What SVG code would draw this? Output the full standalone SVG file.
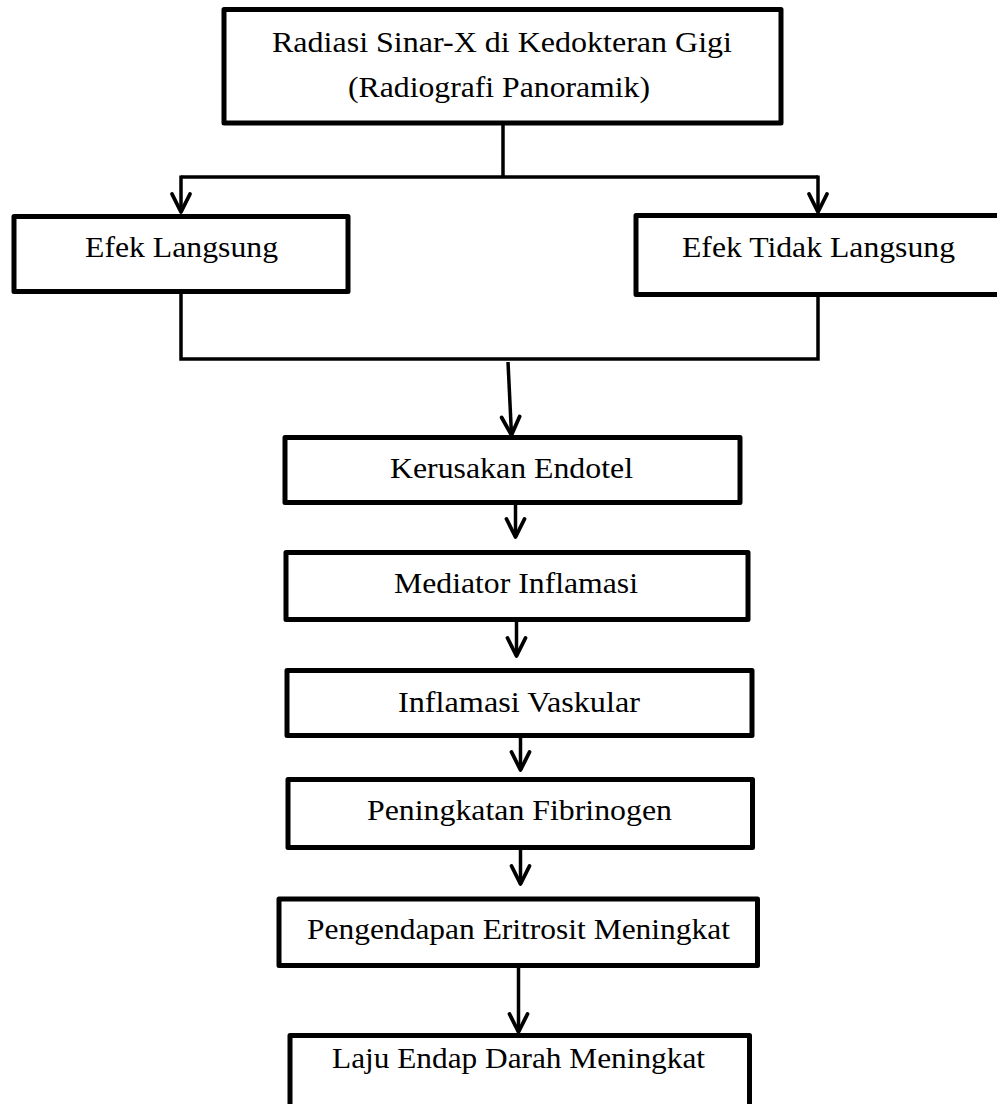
<svg xmlns="http://www.w3.org/2000/svg" width="997" height="1104" viewBox="0 0 997 1104">
<style>
.box{fill:#fff;stroke:#000;stroke-width:5;stroke-linejoin:round}
.lbl{font-family:"Liberation Serif","Times New Roman",serif;font-size:30px;fill:#000;text-anchor:middle}
.ln{fill:none;stroke:#000;stroke-width:3.5}
</style>
<defs>
<marker id="arr" markerUnits="userSpaceOnUse" viewBox="-22 -12 26 24" refX="0" refY="0" markerWidth="26" markerHeight="24" orient="auto" overflow="visible">
<path d="M-18,-9 L0,0 L-18,9" fill="none" stroke="#000" stroke-width="3.8" stroke-linejoin="round" stroke-linecap="round"/>
</marker>
</defs>
<rect width="997" height="1104" fill="#fff"/>
<g id="connectors">
<path class="ln" d="M503,123 V177"/>
<path class="ln" d="M181,177 H818"/>
<path class="ln" d="M181,175.5 V212" marker-end="url(#arr)"/>
<path class="ln" d="M818,175.5 V212" marker-end="url(#arr)"/>
<path class="ln" d="M181,292 V359 H818 V295"/>
<path class="ln" d="M508,362 L511.5,435" marker-end="url(#arr)"/>
<path class="ln" d="M515.5,503 V537" marker-end="url(#arr)"/>
<path class="ln" d="M516.5,620 V656" marker-end="url(#arr)"/>
<path class="ln" d="M520.5,736 V770" marker-end="url(#arr)"/>
<path class="ln" d="M520.5,848 V884" marker-end="url(#arr)"/>
<path class="ln" d="M518.5,966 V1032" marker-end="url(#arr)"/>
</g>
<g id="n-radiasi">
<rect class="box" x="224" y="9.5" width="557" height="113.5"/>
<text class="lbl" x="502" y="52" textLength="460" lengthAdjust="spacingAndGlyphs">Radiasi Sinar-X di Kedokteran Gigi</text>
<text class="lbl" x="499" y="97" textLength="302" lengthAdjust="spacingAndGlyphs">(Radiografi Panoramik)</text>
</g>
<g id="n-efek-langsung">
<rect class="box" x="14" y="216.5" width="334" height="75"/>
<text class="lbl" x="181.5" y="257" textLength="193" lengthAdjust="spacingAndGlyphs">Efek Langsung</text>
</g>
<g id="n-efek-tidak-langsung">
<rect class="box" x="636" y="215.5" width="380" height="79"/>
<text class="lbl" x="818.5" y="257" textLength="273" lengthAdjust="spacingAndGlyphs">Efek Tidak Langsung</text>
</g>
<g id="n-kerusakan">
<rect class="box" x="285" y="437.5" width="455" height="65"/>
<text class="lbl" x="511.5" y="478" textLength="243" lengthAdjust="spacingAndGlyphs">Kerusakan Endotel</text>
</g>
<g id="n-mediator">
<rect class="box" x="286" y="552.5" width="462" height="67"/>
<text class="lbl" x="516" y="593" textLength="244" lengthAdjust="spacingAndGlyphs">Mediator Inflamasi</text>
</g>
<g id="n-inflamasi">
<rect class="box" x="287" y="670.5" width="465" height="65"/>
<text class="lbl" x="519" y="712" textLength="242" lengthAdjust="spacingAndGlyphs">Inflamasi Vaskular</text>
</g>
<g id="n-fibrinogen">
<rect class="box" x="288" y="779.5" width="464.5" height="68"/>
<text class="lbl" x="519.5" y="820" textLength="305" lengthAdjust="spacingAndGlyphs">Peningkatan Fibrinogen</text>
</g>
<g id="n-pengendapan">
<rect class="box" x="279" y="899" width="478.5" height="66.5"/>
<text class="lbl" x="518.5" y="939" textLength="423" lengthAdjust="spacingAndGlyphs">Pengendapan Eritrosit Meningkat</text>
</g>
<g id="n-led">
<rect class="box" x="290" y="1035.5" width="459.5" height="90"/>
<text class="lbl" x="518.5" y="1068" textLength="373" lengthAdjust="spacingAndGlyphs">Laju Endap Darah Meningkat</text>
</g>
</svg>
